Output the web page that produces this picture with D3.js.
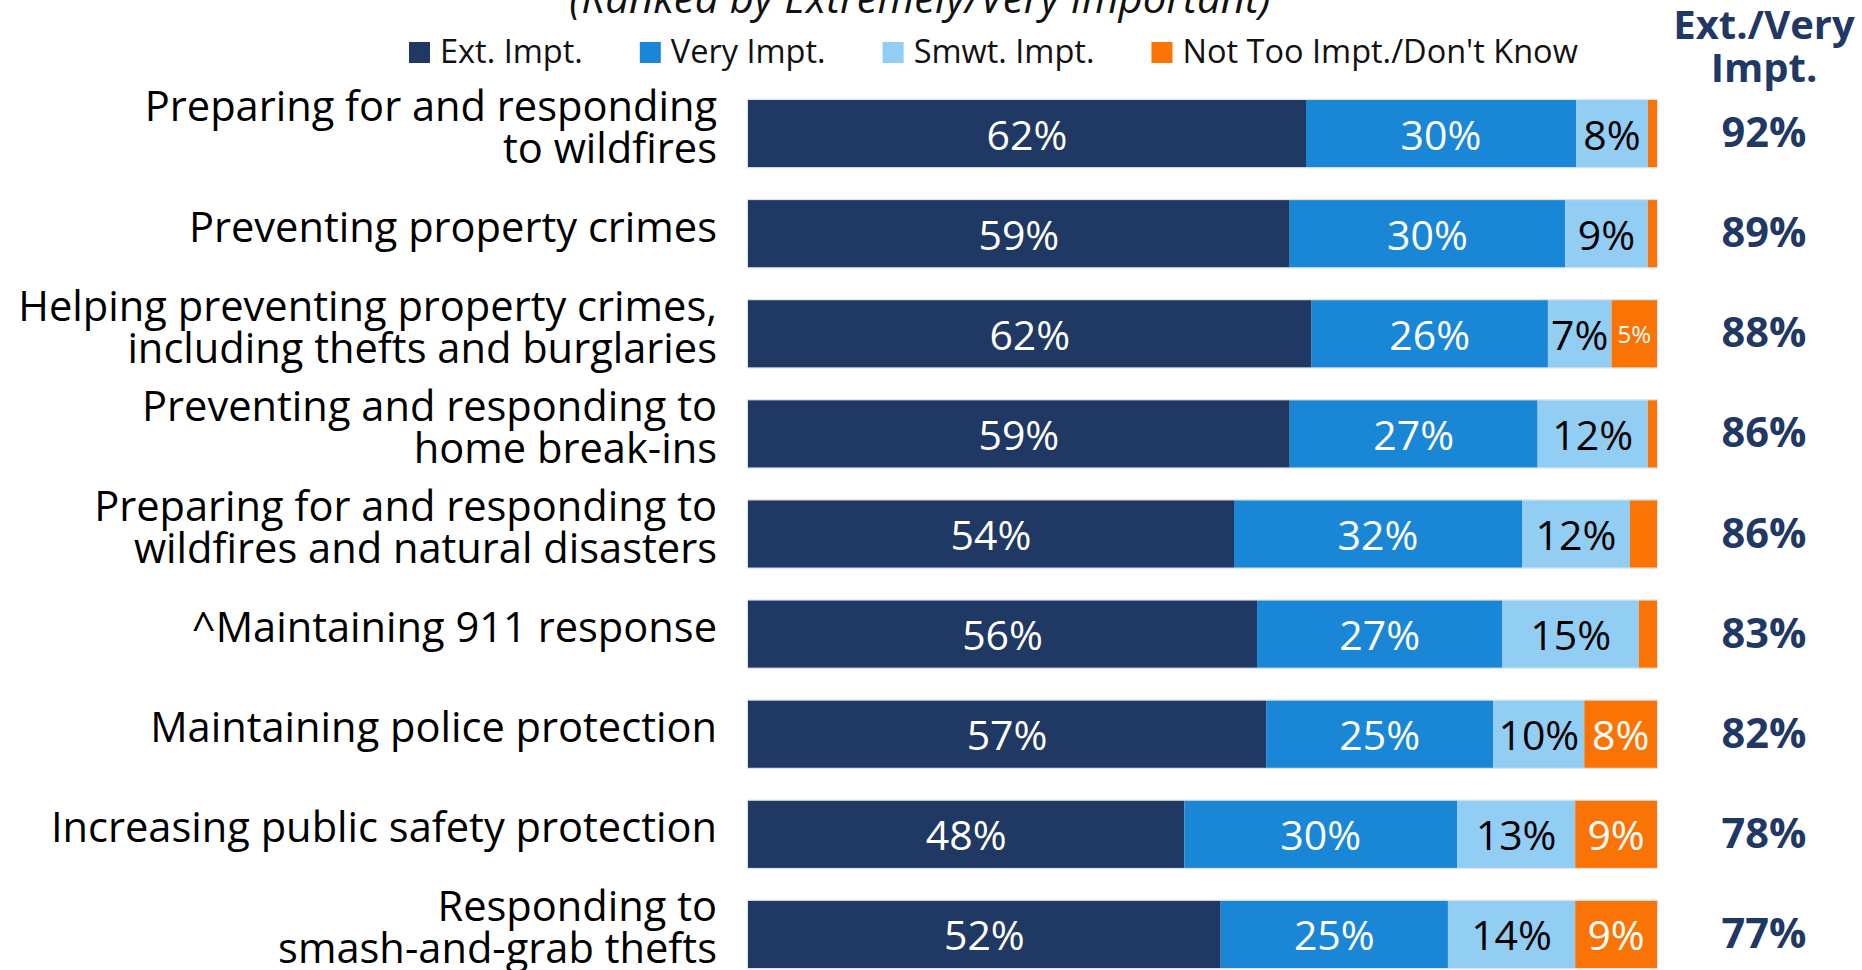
<!DOCTYPE html>
<html><head><meta charset="utf-8">
<script src="https://cdn.jsdelivr.net/npm/d3@7"></script>
<style>
html,body{margin:0;padding:0;background:#fff;overflow:hidden}
svg{display:block}
text{font-family:"Open Sans","Noto Sans",sans-serif}
</style></head><body>
<svg id="chart" width="1862" height="970"></svg>
<script>
// ---- data ----
const categories = [
  "Preparing for and responding\nto wildfires",
  "Preventing property crimes",
  "Helping preventing property crimes,\nincluding thefts and burglaries",
  "Preventing and responding to\nhome break-ins",
  "Preparing for and responding to\nwildfires and natural disasters",
  "^Maintaining 911 response",
  "Maintaining police protection",
  "Increasing public safety protection",
  "Responding to\nsmash-and-grab thefts"
];
const seriesNames = ["Ext. Impt.", "Very Impt.", "Smwt. Impt.", "Not Too Impt./Don't Know"];
const extImpt    = [62, 59, 62, 59, 54, 56, 57, 48, 52];
const veryImpt   = [30, 30, 26, 27, 32, 27, 25, 30, 25];
const smwtImpt   = [ 8,  9,  7, 12, 12, 15, 10, 13, 14];
const notTooImpt = [ 1,  1,  5,  1,  3,  2,  8,  9,  9];
const notTooLabelled = [false, false, true, false, false, false, true, true, true];
const extVeryTotal = [92, 89, 88, 86, 86, 83, 82, 78, 77];
const titleText = "(Ranked by Extremely/Very Important)";
const totalHeader = ["Ext./Very", "Impt."];

// ---- styles ----
const colors = ["#1F3864", "#1A87D6", "#92CDF3", "#FA7305"];
const labelColors = ["#fff", "#fff", "#000", "#fff"];
const keys = ["ext", "very", "smwt", "notToo"];
const navy = "#1F3864";

const rows = categories.map((c, i) => ({
  cat: c, ext: extImpt[i], very: veryImpt[i], smwt: smwtImpt[i], notToo: notTooImpt[i],
  labelled: [true, true, true, notTooLabelled[i]], total: extVeryTotal[i]
}));

const svg = d3.select("#chart");

const x = d3.scaleLinear().domain([0, 1]).range([748, 1657]);
const y = d3.scaleBand().domain(categories).range([100, 968]).paddingInner(0.33).paddingOuter(0);

const stack = d3.stack().keys(keys).offset(d3.stackOffsetExpand);
const series = stack(rows);

// title (partially cut at top)
svg.append("text")
  .attr("x", 920).attr("y", 13)
  .attr("text-anchor", "middle")
  .style("font-style", "italic")
  .style("font-size", "42px")
  .attr("fill", "#111")
  .text(titleText);

// legend
const legend = svg.append("g");
let lx = 409;
seriesNames.forEach((name, i) => {
  legend.append("rect").attr("x", lx).attr("y", 42).attr("width", 21).attr("height", 21).attr("fill", colors[i]);
  const t = legend.append("text").attr("x", lx + 31).attr("y", 63)
    .style("font-size", "32.5px").attr("fill", "#111").text(name);
  lx = lx + 31 + t.node().getComputedTextLength() + 57;
});

// header for total column
const header = svg.append("text").attr("text-anchor", "middle")
  .style("font-size", "40px").style("font-weight", "700").attr("fill", navy);
totalHeader.forEach((t, i) => {
  header.append("tspan").attr("x", 1764).attr("y", i === 0 ? 39 : 82).text(t);
});

// bar outlines
svg.append("g").selectAll("rect").data(rows).join("rect")
  .attr("x", x(0) - 0.5).attr("y", d => y(d.cat) - 0.5)
  .attr("width", x(1) - x(0) + 1).attr("height", y.bandwidth() + 1)
  .attr("fill", "none").attr("stroke", "#dfe4ea").attr("stroke-width", 1.5);

// bars
const layers = svg.append("g").selectAll("g").data(series).join("g")
  .attr("fill", (d, i) => colors[i]);
layers.selectAll("rect").data(d => d).join("rect")
  .attr("x", d => x(d[0]))
  .attr("y", d => y(d.data.cat))
  .attr("width", d => x(d[1]) - x(d[0]))
  .attr("height", y.bandwidth());

// segment labels
series.forEach((s, si) => {
  const small = d => si === 3 && d.data[keys[si]] <= 5;
  svg.append("g").selectAll("text")
    .data(s.filter(d => d.data.labelled[si]))
    .join("text")
    .attr("x", d => (x(d[0]) + x(d[1])) / 2)
    .attr("y", d => y(d.data.cat) + y.bandwidth() / 2 + (small(d) ? 9 : 16))
    .attr("text-anchor", "middle")
    .style("font-size", d => small(d) ? "24px" : "41px")
    .attr("fill", labelColors[si])
    .text(d => d.data[keys[si]] + "%");
});

// category labels
const catG = svg.append("g");
rows.forEach(r => {
  const lines = r.cat.split("\n");
  const cy = y(r.cat) + y.bandwidth() / 2 + 8;
  const t = catG.append("text").attr("text-anchor", "end")
    .style("font-size", "41.6px").attr("fill", "#000");
  lines.forEach((ln, i) => {
    t.append("tspan").attr("x", 717)
      .attr("y", cy + (i - (lines.length - 1) / 2) * 42)
      .text(ln);
  });
});

// totals column
svg.append("g").selectAll("text").data(rows).join("text")
  .attr("x", 1764)
  .attr("y", d => y(d.cat) + y.bandwidth() / 2 + 13.5)
  .attr("text-anchor", "middle")
  .style("font-size", "41.5px").style("font-weight", "700")
  .attr("fill", navy)
  .text(d => d.total + "%");
</script>
</body></html>
